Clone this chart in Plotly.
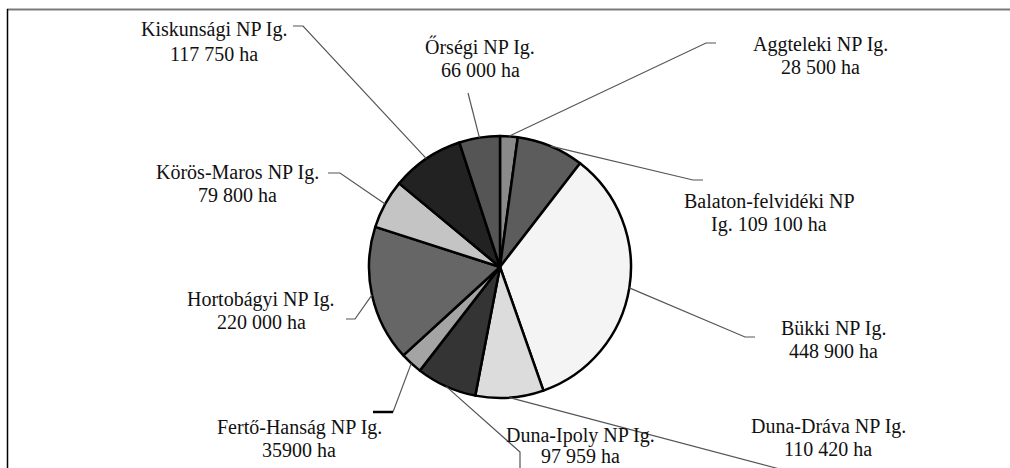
import math
import plotly.graph_objects as go

W, H = 1010, 468

# ---- data ----
parks = ["Aggteleki NP Ig.", "Balaton-felvidéki NP Ig.", "Bükki NP Ig.", "Duna-Dráva NP Ig.",
         "Duna-Ipoly NP Ig.", "Fertő-Hanság NP Ig.", "Hortobágyi NP Ig.", "Körös-Maros NP Ig.",
         "Kiskunsági NP Ig.", "Őrségi NP Ig."]
areas_ha = [28500, 109100, 448900, 110420, 97959, 35900, 220000, 79800, 117750, 66000]
label_line1 = ["Aggteleki NP Ig.", "Balaton-felvidéki NP", "Bükki NP Ig.", "Duna-Dráva NP Ig.",
               "Duna-Ipoly NP Ig.", "Fertő-Hanság NP Ig.", "Hortobágyi NP Ig.", "Körös-Maros NP Ig.",
               "Kiskunsági NP Ig.", "Őrségi NP Ig."]
label_line2 = ["28 500 ha", "Ig. 109 100 ha", "448 900 ha", "110 420 ha", "97 959 ha",
               "35900 ha", "220 000 ha", "79 800 ha", "117 750 ha", "66 000 ha"]

# ---- styles / layout ----
slice_colors = ["#8a8a8a", "#5c5c5c", "#f4f4f4", "#dcdcdc", "#343434",
                "#a4a4a4", "#666666", "#c4c4c4", "#222222", "#555555"]
CX, CY, R = 500, 267, 131  # pie centre / radius in pixels

# label text positions (pixel): x centre, y of line 1, y of line 2
label_pos = [(820, 44, 67), (769, 201, 224), (833, 328, 351), (828, 426, 449),
             (580, 435, 456), (299, 427, 450), (261, 299, 322), (237, 172, 195),
             (214, 30, 54), (480, 47, 70)]
# leader line bend points (pixel), after the slice edge point
leader_bends = [
    [(706, 43), (716, 43)],
    [(693, 180), (703, 180)],
    [(745, 337), (755, 337)],
    [(776, 468), (800, 475)],
    [(520, 452), (520, 475)],
    [(393, 412)],
    [(355, 319), (346, 319)],
    [(340, 173), (328, 173)],
    [(303, 26), (293, 26)],
    [(468, 93)],
]


def px(x):
    return x / W


def py(y):
    return 1 - y / H


fig = go.Figure()
fig.add_trace(go.Pie(
    labels=parks, values=areas_ha, sort=False, direction="clockwise", rotation=0,
    marker=dict(colors=slice_colors, line=dict(color="black", width=2.5)),
    textinfo="none", hoverinfo="label+value", showlegend=False,
    domain=dict(x=[px(CX - R), px(CX + R)], y=[py(CY + R), py(CY - R)]),
))

shapes = []
annotations = []
total = sum(areas_ha)
cum = 0
for i, v in enumerate(areas_ha):
    mid = (cum + v / 2) / total * 2 * math.pi
    cum += v
    ex = CX + R * math.sin(mid)
    ey = CY - R * math.cos(mid)
    pts = [(ex, ey)] + leader_bends[i]
    path = "M " + " L ".join(f"{px(x):.5f},{py(y):.5f}" for x, y in pts)
    shapes.append(dict(type="path", xref="paper", yref="paper", path=path,
                       line=dict(color="#555555", width=1.2)))
    lx, ly1, ly2 = label_pos[i]
    for txt, ly in ((label_line1[i], ly1), (label_line2[i], ly2)):
        annotations.append(dict(x=px(lx), y=py(ly), xref="paper", yref="paper",
                                text=txt, showarrow=False, xanchor="center", yanchor="middle",
                                font=dict(family="Liberation Serif", size=20, color="#111111")))

# thick black tick at Fertő-Hanság leader
shapes.append(dict(type="line", xref="paper", yref="paper",
                   x0=px(393), y0=py(412), x1=px(373), y1=py(412),
                   line=dict(color="black", width=2.5)))
# frame
shapes.append(dict(type="line", xref="paper", yref="paper",
                   x0=px(7), y0=py(9.5), x1=px(1010), y1=py(9.5),
                   line=dict(color="#7a7a7a", width=2)))
shapes.append(dict(type="line", xref="paper", yref="paper",
                   x0=px(7.5), y0=py(9), x1=px(7.5), y1=py(470),
                   line=dict(color="black", width=1.5)))

fig.update_layout(
    width=W, height=H, autosize=False,
    margin=dict(l=0, r=0, t=0, b=0),
    paper_bgcolor="white", plot_bgcolor="white",
    shapes=shapes, annotations=annotations,
)

fig.write_html("out.html", config={"displayModeBar": False},
               post_script="document.body.style.margin='0';document.body.style.overflow='hidden';")
